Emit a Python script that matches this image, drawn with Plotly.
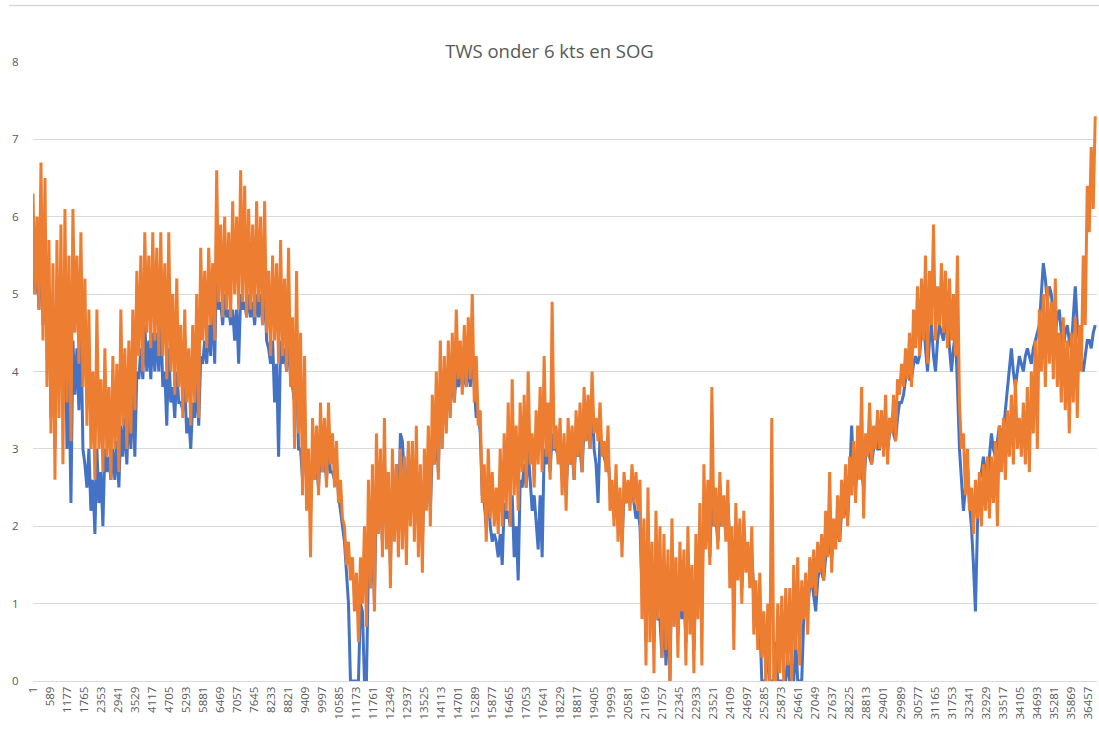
import plotly.graph_objects as go

# ---- data (one value every ~69 samples) ----
orange_tws = [
    6.3, 5.0, 6.0, 4.8, 6.7, 4.4, 6.5, 3.8, 5.7, 3.2, 5.4, 2.6, 5.7, 3.4, 5.9, 2.8, 6.1, 3.6, 5.5, 3.1,
    6.1, 4.5, 5.5, 4.1, 5.8, 3.8, 5.2, 3.3, 4.8, 3.0, 4.0, 2.6, 4.8, 3.0, 3.9, 2.7, 4.3, 2.9, 3.8, 2.6,
    4.2, 3.0, 4.1, 2.7, 4.8, 3.3, 4.3, 3.0, 4.4, 3.2, 4.8, 3.5, 5.3, 4.2, 5.5, 4.0, 5.8, 4.5, 5.5, 4.3,
    5.8, 4.4, 5.6, 4.2, 5.8, 4.2, 5.4, 3.9, 5.8, 4.0, 5.0, 3.7, 5.2, 3.8, 4.6, 3.4, 4.8, 3.6, 4.3, 3.3,
    4.6, 3.6, 5.0, 3.4, 5.6, 4.4, 5.3, 4.3, 5.6, 4.6, 5.4, 4.4, 6.6, 4.9, 5.9, 4.7, 6.0, 4.8, 5.8, 4.7,
    6.2, 5.0, 6.0, 4.8, 6.6, 4.9, 6.4, 4.7, 6.1, 4.8, 5.9, 4.7, 6.2, 4.9, 6.0, 4.6, 6.2, 4.5, 5.3, 4.2,
    5.5, 4.4, 5.4, 4.1, 5.7, 4.2, 5.2, 4.0, 5.6, 3.8, 4.7, 3.0, 5.3, 3.2, 4.5, 2.4, 4.2, 2.2, 3.0, 1.6,
    3.4, 2.6, 3.3, 2.4, 3.6, 2.7, 3.4, 2.5, 3.6, 2.8, 3.2, 2.5, 3.1, 2.3, 2.6, 2.1, 2.0, 1.5, 1.8, 1.3,
    1.6, 0.9, 1.4, 0.5, 1.6, 1.0, 2.0, 0.7, 2.6, 1.2, 2.8, 0.9, 3.2, 1.9, 3.0, 1.6, 3.4, 1.7, 2.7, 1.2,
    3.0, 1.8, 2.8, 1.6, 3.0, 1.7, 2.9, 1.5, 3.1, 2.0, 3.1, 1.8, 3.3, 1.6, 2.8, 1.4, 3.0, 2.2, 3.3, 2.0,
    3.7, 2.8, 4.0, 2.6, 4.4, 3.0, 4.2, 3.2, 4.4, 3.4, 4.5, 3.6, 4.8, 3.9, 4.4, 3.7, 4.6, 3.8, 4.7, 3.9,
    5.0, 3.6, 4.2, 3.3, 3.5, 2.3, 2.8, 1.8, 3.0, 2.1, 2.7, 2.0, 2.5, 1.9, 3.0, 2.0, 3.2, 2.2, 3.6, 2.0,
    3.9, 2.4, 3.3, 2.2, 3.6, 2.7, 3.7, 2.5, 4.0, 2.8, 3.2, 2.5, 3.5, 2.8, 3.8, 2.7, 4.2, 2.9, 3.6, 2.6,
    4.9, 3.0, 3.3, 2.8, 3.4, 2.4, 3.2, 2.2, 3.4, 2.8, 3.3, 2.6, 3.5, 2.9, 3.6, 2.7, 3.8, 3.1, 3.7, 3.0,
    4.0, 3.2, 3.4, 3.1, 3.6, 2.9, 3.1, 2.7, 3.3, 2.2, 2.6, 2.0, 2.8, 1.8, 2.5, 1.6, 2.7, 2.3, 2.6, 2.2,
    2.8, 2.3, 2.7, 2.2, 2.6, 0.8, 2.1, 0.2, 2.5, 0.5, 1.8, 0.1, 2.2, 0.8, 2.0, 0.3, 1.9, 0.4, 1.7, 0.0,
    2.1, 0.7, 1.6, 0.3, 1.8, 0.9, 1.7, 0.2, 2.0, 0.6, 1.5, 0.1, 1.9, 0.8, 2.3, 0.2, 2.8, 1.7, 2.6, 1.5,
    3.8, 2.0, 2.5, 1.7, 2.7, 2.0, 2.4, 1.8, 2.6, 1.2, 2.0, 0.4, 2.3, 1.3, 2.1, 1.0, 2.2, 1.4, 1.8, 1.2,
    2.0, 0.6, 1.3, 0.4, 1.4, 0.3, 0.9, 0.0, 1.0, 0.0, 3.4, 0.0, 0.0, 1.0, 0.1, 1.1, 0.0, 1.2, 0.2, 1.2,
    0.0, 1.5, 0.4, 1.6, 0.2, 1.3, 0.8, 1.4, 0.6, 1.6, 1.2, 1.7, 1.1, 1.8, 1.4, 1.9, 1.3, 2.2, 1.6, 2.7,
    1.4, 2.1, 1.7, 2.4, 1.8, 2.6, 2.1, 2.8, 2.0, 2.9, 2.4, 3.1, 2.3, 3.3, 2.6, 3.8, 2.1, 3.2, 2.9, 3.6,
    2.8, 3.3, 3.0, 3.5, 3.0, 3.5, 2.9, 3.7, 2.8, 3.4, 3.2, 3.7, 3.1, 3.9, 3.7, 4.1, 3.8, 4.3, 3.9, 4.5,
    3.8, 4.8, 4.3, 5.1, 4.2, 5.2, 4.4, 5.5, 4.1, 5.3, 4.6, 5.9, 4.4, 5.1, 4.6, 5.4, 4.5, 5.3, 4.3, 5.2,
    4.4, 5.0, 4.2, 5.5, 3.6, 3.0, 3.2, 2.4, 3.0, 2.2, 2.5, 1.9, 2.6, 2.1, 2.7, 2.0, 2.8, 2.2, 2.9, 2.1,
    2.9, 2.3, 3.1, 2.0, 3.3, 2.7, 3.4, 2.6, 3.5, 2.9, 3.7, 2.8, 3.9, 3.0, 3.4, 2.9, 3.6, 2.8, 3.8, 2.7,
    4.0, 3.2, 4.4, 3.0, 4.8, 4.0, 5.0, 3.8, 5.1, 4.1, 4.9, 3.9, 5.2, 3.8, 4.5, 3.6, 4.7, 3.5, 4.4, 3.2,
    4.5, 3.6, 4.7, 3.4, 4.6, 4.0, 5.5, 4.6, 6.4, 5.8, 6.9, 6.1, 7.3,
]

blue_sog = [
    5.5, 5.0, 5.4, 4.8, 5.8, 4.6, 5.2, 4.4, 5.0, 3.4, 4.8, 3.0, 5.2, 4.6, 5.0, 4.5, 5.1, 3.0, 4.0, 2.3,
    4.4, 3.7, 4.3, 3.5, 4.6, 3.0, 2.8, 2.5, 3.0, 2.2, 2.6, 1.9, 3.0, 2.3, 2.7, 2.0, 3.0, 2.7, 2.9, 2.6,
    3.0, 2.6, 3.1, 2.5, 3.3, 2.9, 3.4, 2.8, 3.6, 3.0, 3.8, 2.9, 4.0, 3.9, 4.3, 3.9, 4.6, 4.0, 4.4, 3.9,
    4.5, 4.0, 4.5, 4.0, 4.7, 3.8, 4.0, 3.3, 4.3, 3.6, 3.8, 3.4, 4.0, 3.6, 3.6, 3.5, 3.8, 3.2, 3.4, 3.0,
    3.6, 3.4, 3.9, 3.3, 4.2, 4.1, 4.4, 4.1, 4.6, 4.2, 5.0, 4.1, 5.5, 4.8, 4.9, 4.6, 5.0, 4.7, 4.8, 4.6,
    4.8, 4.4, 4.8, 4.1, 5.0, 4.8, 4.9, 4.7, 5.0, 4.7, 4.9, 4.6, 5.0, 4.7, 5.0, 4.6, 5.2, 4.4, 4.3, 4.1,
    4.4, 3.6, 4.1, 2.9, 4.4, 4.1, 4.3, 4.0, 4.5, 3.9, 3.8, 3.6, 4.0, 3.0, 3.0, 2.6, 3.4, 2.6, 2.6, 2.2,
    2.9, 2.6, 2.8, 2.5, 3.0, 2.7, 2.9, 2.6, 3.0, 2.7, 2.7, 2.6, 2.8, 2.4, 2.2, 2.0, 1.8, 1.4, 1.0, 0.0,
    0.0, 0.0, 0.0, 0.0, 1.0, 0.9, 0.0, 0.0, 1.5, 1.2, 1.9, 1.0, 2.5, 2.0, 2.5, 1.8, 2.8, 2.0, 2.3, 1.5,
    2.5, 2.2, 2.8, 2.0, 3.2, 3.1, 2.6, 2.0, 3.0, 2.4, 2.6, 2.2, 2.8, 2.0, 2.3, 1.8, 2.6, 2.4, 2.7, 2.2,
    3.0, 2.8, 3.2, 2.7, 3.6, 3.4, 3.6, 3.3, 3.8, 3.6, 3.9, 3.6, 4.0, 3.8, 4.0, 3.8, 4.0, 3.8, 4.1, 3.8,
    4.2, 3.8, 3.4, 3.5, 3.2, 2.4, 2.3, 2.0, 2.5, 2.0, 1.8, 1.9, 1.8, 1.6, 1.9, 1.5, 2.3, 2.1, 2.2, 2.0,
    2.4, 1.6, 2.0, 1.3, 2.6, 2.5, 2.8, 2.5, 3.0, 2.6, 2.2, 2.4, 2.0, 1.7, 2.4, 1.6, 3.0, 2.8, 3.0, 2.7,
    3.2, 3.0, 3.0, 2.9, 3.0, 2.6, 2.8, 2.4, 3.0, 2.8, 3.0, 2.6, 3.2, 2.9, 3.0, 2.7, 3.3, 3.1, 3.4, 3.0,
    3.7, 3.0, 2.8, 2.3, 3.2, 3.0, 2.9, 2.8, 2.9, 2.5, 2.3, 2.2, 2.4, 2.0, 2.2, 1.8, 2.4, 2.3, 2.4, 2.3,
    2.5, 2.3, 2.1, 2.2, 2.0, 1.2, 1.4, 0.5, 1.8, 1.0, 1.2, 0.5, 1.5, 0.8, 0.8, 0.3, 1.0, 0.2, 1.0, 0.0,
    1.5, 1.0, 1.0, 0.6, 1.2, 0.8, 1.2, 0.5, 1.5, 0.8, 1.0, 0.4, 1.3, 1.0, 1.8, 1.2, 2.2, 1.8, 2.2, 1.6,
    2.5, 2.0, 2.1, 1.8, 2.3, 2.0, 2.2, 1.9, 2.3, 1.8, 1.8, 1.5, 2.0, 1.5, 1.6, 1.2, 1.8, 1.5, 1.5, 1.4,
    1.6, 1.2, 1.0, 1.0, 0.8, 0.0, 0.0, 0.0, 0.5, 0.0, 0.0, 0.0, 0.5, 0.0, 0.0, 0.0, 0.0, 0.0, 0.3, 0.0,
    0.0, 0.0, 0.5, 0.0, 0.0, 0.0, 0.8, 1.0, 1.0, 1.2, 1.3, 1.1, 0.9, 1.3, 1.5, 1.4, 1.3, 1.6, 1.9, 1.7,
    1.6, 1.9, 2.0, 1.9, 1.8, 2.2, 2.4, 2.2, 2.1, 2.6, 3.3, 2.7, 2.5, 2.8, 3.0, 2.7, 2.5, 2.9, 3.0, 2.9,
    2.8, 3.0, 3.2, 3.0, 3.0, 3.2, 3.3, 3.1, 3.0, 3.2, 3.4, 3.2, 3.1, 3.4, 3.6, 3.6, 3.7, 3.9, 4.0, 3.9,
    3.9, 4.1, 4.2, 4.1, 4.2, 4.5, 4.7, 4.3, 4.0, 4.4, 4.6, 4.2, 4.0, 4.4, 4.6, 4.5, 4.4, 4.6, 4.7, 4.3,
    4.0, 4.3, 4.5, 3.8, 3.0, 2.6, 2.2, 2.5, 2.8, 2.3, 2.0, 1.5, 0.9, 2.0, 2.6, 2.7, 2.9, 2.7, 2.5, 2.9,
    3.2, 3.0, 2.9, 3.1, 3.3, 3.2, 3.2, 3.5, 3.8, 4.0, 4.3, 4.0, 3.8, 4.0, 4.2, 4.1, 4.0, 4.2, 4.3, 4.2,
    4.1, 4.3, 4.4, 4.5, 4.6, 5.0, 5.4, 5.2, 4.9, 5.1, 5.0, 4.7, 4.5, 4.7, 4.8, 4.5, 4.3, 4.5, 4.6, 4.4,
    4.3, 4.7, 5.1, 4.6, 4.4, 4.1, 4.0, 4.2, 4.4, 4.4, 4.3, 4.5, 4.6,
]

sample_step = 69
orange_samples = [1 + sample_step * i for i in range(len(orange_tws))]
blue_samples = [1 + sample_step * i for i in range(len(blue_sog))]

x_tick_labels = [
    "1", "589", "1177", "1765", "2353", "2941", "3529", "4117", "4705", "5293",
    "5881", "6469", "7057", "7645", "8233", "8821", "9409", "9997", "10585", "11173",
    "11761", "12349", "12937", "13525", "14113", "14701", "15289", "15877", "16465", "17053",
    "17641", "18229", "18817", "19405", "19993", "20581", "21169", "21757", "22345", "22933",
    "23521", "24109", "24697", "25285", "25873", "26461", "27049", "27637", "28225", "28813",
    "29401", "29989", "30577", "31165", "31753", "32341", "32929", "33517", "34105", "34693",
    "35281", "35869", "36457",
]
y_ticks = [0, 1, 2, 3, 4, 5, 6, 7, 8]

title_text = "TWS onder 6 kts en SOG"

fig = go.Figure()
fig.add_trace(go.Scatter(x=blue_samples, y=blue_sog, mode="lines",
                         line=dict(color="#4472C4", width=3), name="SOG"))
fig.add_trace(go.Scatter(x=orange_samples, y=orange_tws, mode="lines",
                         line=dict(color="#ED7D31", width=3), name="TWS"))

font_family = "Open Sans, Noto Sans, sans-serif"
fig.update_layout(
    width=1099, height=729,
    margin=dict(l=33, r=2, t=62, b=48),
    paper_bgcolor="white", plot_bgcolor="white",
    showlegend=False,
    title=dict(text=title_text, x=0.5, xanchor="center", y=1 - 52 / 729,
               yanchor="middle", font=dict(family=font_family, size=18.5, color="#595959")),
    font=dict(family=font_family, color="#595959"),
)
fig.update_xaxes(
    range=[1, 36770], tickmode="array",
    tickvals=[int(t) for t in x_tick_labels], ticktext=x_tick_labels,
    tickangle=-90, tickfont=dict(size=11.5, color="#595959"),
    showgrid=False, zeroline=False, showline=True, linecolor="#d9d9d9", linewidth=1,
    ticks="", automargin=False,
)
fig.update_yaxes(
    range=[0, 8], tickmode="array", tickvals=y_ticks,
    tickfont=dict(size=11.5, color="#595959"),
    showgrid=True, gridcolor="#d9d9d9", gridwidth=1, zeroline=False,
    ticks="outside", ticklen=11, tickcolor="rgba(0,0,0,0)", automargin=False,
)
fig.add_shape(type="line", xref="paper", yref="paper",
              x0=-24 / 1064, x1=1 + 2 / 1064, y0=1 + 56.5 / 619, y1=1 + 56.5 / 619,
              line=dict(color="#d9d9d9", width=1.5))

fig.write_html("out.html", config={"displayModeBar": False},
               post_script="document.body.style.margin='0px';")
